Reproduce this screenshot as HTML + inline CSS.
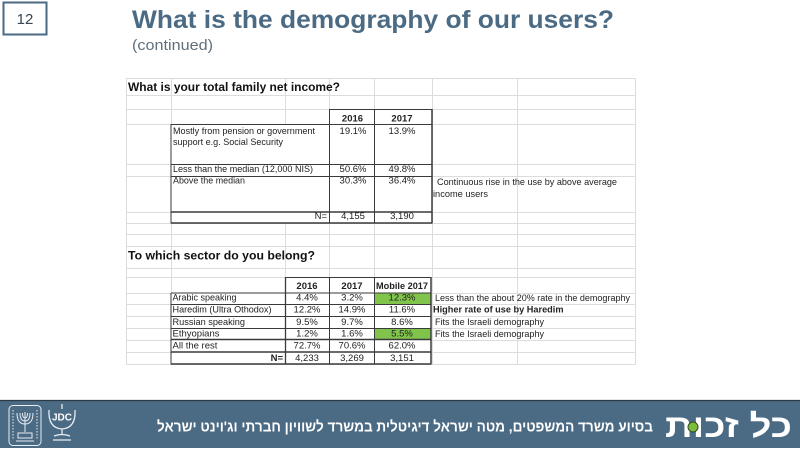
<!DOCTYPE html>
<html><head><meta charset="utf-8">
<style>
html,body{margin:0;padding:0;background:#fff;}
svg{display:block;}
text{font-family:"Liberation Sans",Arial,sans-serif;}
.t{font-size:9.5px;fill:#222;}
.b{font-weight:bold;}
.c{text-anchor:middle;}
.he{font-family:"Liberation Sans","DejaVu Sans",sans-serif;}
</style></head><body>
<svg width="800" height="450" viewBox="0 0 800 450" xmlns="http://www.w3.org/2000/svg">
<rect width="800" height="450" fill="#fff"/>

<!-- slide number -->
<rect x="3.5" y="2.5" width="43" height="32" fill="none" stroke="#4b6a84" stroke-width="2"/>
<text x="25" y="24" class="c" font-size="15" fill="#3a4652">12</text>

<!-- title -->
<text x="132" y="28" font-size="25" font-weight="bold" fill="#4b6a84" textLength="482" lengthAdjust="spacingAndGlyphs">What is the demography of our users?</text>
<text x="132" y="50" font-size="15" fill="#5f6f7c" textLength="81" lengthAdjust="spacingAndGlyphs">(continued)</text>

<!-- spreadsheet gridlines -->
<g stroke="#dcdcdc" stroke-width="1">
<line x1="126" y1="78.5" x2="635" y2="78.5"/>
<line x1="126" y1="95.5" x2="635" y2="95.5"/>
<line x1="126" y1="109.5" x2="635" y2="109.5"/>
<line x1="126" y1="124.5" x2="635" y2="124.5"/>
<line x1="126" y1="164.5" x2="635" y2="164.5"/>
<line x1="126" y1="176.5" x2="635" y2="176.5"/>
<line x1="126" y1="212.5" x2="635" y2="212.5"/>
<line x1="126" y1="223.5" x2="635" y2="223.5"/>
<line x1="126" y1="234.5" x2="635" y2="234.5"/>
<line x1="126" y1="246.5" x2="635" y2="246.5"/>
<line x1="126" y1="268.5" x2="635" y2="268.5"/>
<line x1="126" y1="277.5" x2="635" y2="277.5"/>
<line x1="126" y1="293.5" x2="635" y2="293.5"/>
<line x1="126" y1="304.5" x2="635" y2="304.5"/>
<line x1="126" y1="316.5" x2="635" y2="316.5"/>
<line x1="126" y1="328.5" x2="635" y2="328.5"/>
<line x1="126" y1="340.5" x2="635" y2="340.5"/>
<line x1="126" y1="352.5" x2="635" y2="352.5"/>
<line x1="126" y1="364.5" x2="635" y2="364.5"/>
<line x1="126.5" y1="78" x2="126.5" y2="365"/>
<line x1="171.5" y1="78" x2="171.5" y2="365"/>
<line x1="285.5" y1="78" x2="285.5" y2="365"/>
<line x1="329.5" y1="78" x2="329.5" y2="365"/>
<line x1="374.5" y1="78" x2="374.5" y2="365"/>
<line x1="432.5" y1="78" x2="432.5" y2="365"/>
<line x1="517.5" y1="78" x2="517.5" y2="365"/>
<line x1="635.5" y1="78" x2="635.5" y2="365"/>
</g>

<!-- table 1 fills -->
<rect x="171" y="124" width="261" height="99" fill="#fff"/>
<rect x="329" y="109" width="103" height="15" fill="#fff"/>
<!-- table 2 fills -->
<rect x="171" y="293" width="260" height="71" fill="#fff"/>
<rect x="285" y="277" width="146" height="16" fill="#fff"/>
<rect x="374" y="293" width="57" height="11" fill="#80c44c"/>
<rect x="374" y="328" width="57" height="11.5" fill="#80c44c"/>

<!-- table 1 borders -->
<g stroke="#3a3a3a" stroke-width="1">
<line x1="329" y1="109.5" x2="432" y2="109.5"/>
<line x1="171" y1="124.5" x2="432" y2="124.5"/>
<line x1="171" y1="164.5" x2="432" y2="164.5"/>
<line x1="171" y1="176.5" x2="432" y2="176.5"/>
<line x1="171" y1="212" x2="432" y2="212" stroke-width="1.5"/>
<line x1="171" y1="223" x2="432" y2="223" stroke-width="1.5"/>
<line x1="171" y1="124" x2="171" y2="223.5"/>
<line x1="329.5" y1="109" x2="329.5" y2="223.5"/>
<line x1="374.5" y1="109" x2="374.5" y2="223.5"/>
<line x1="432" y1="109" x2="432" y2="223.5" stroke-width="1.5"/>
</g>

<!-- table 2 borders -->
<g stroke="#3a3a3a" stroke-width="1">
<line x1="285" y1="277.5" x2="431" y2="277.5"/>
<line x1="171" y1="293" x2="431" y2="293"/>
<line x1="171" y1="304.5" x2="431" y2="304.5"/>
<line x1="171" y1="316.5" x2="431" y2="316.5"/>
<line x1="171" y1="328.5" x2="431" y2="328.5"/>
<line x1="171" y1="339.5" x2="431" y2="339.5" stroke-width="1.5"/>
<line x1="171" y1="352" x2="431" y2="352" stroke-width="1.5"/>
<line x1="171" y1="364" x2="431" y2="364" stroke-width="1.5"/>
<line x1="171" y1="293" x2="171" y2="364.5"/>
<line x1="285.5" y1="277" x2="285.5" y2="364.5" stroke-width="1.3"/>
<line x1="329.5" y1="277" x2="329.5" y2="364.5"/>
<line x1="374.5" y1="277" x2="374.5" y2="364.5"/>
<line x1="431" y1="277" x2="431" y2="364.5" stroke-width="1.5"/>
</g>

<!-- section titles -->
<text x="128" y="91" font-size="12" font-weight="bold" fill="#111" textLength="212" lengthAdjust="spacingAndGlyphs">What is your total family net income?</text>
<text x="128" y="259.5" font-size="12" font-weight="bold" fill="#111" textLength="187" lengthAdjust="spacingAndGlyphs">To which sector do you belong?</text>

<!-- table 1 text -->
<text x="352.5" y="121.5" class="t b c">2016</text>
<text x="402" y="121.5" class="t b c">2017</text>
<text x="173" y="134" class="t" textLength="142" lengthAdjust="spacingAndGlyphs">Mostly from pension or government</text>
<text x="173" y="145" class="t" textLength="110" lengthAdjust="spacingAndGlyphs">support e.g. Social Security</text>
<text x="353" y="134" class="t c">19.1%</text>
<text x="402" y="134" class="t c">13.9%</text>
<text x="173" y="172" class="t" textLength="140" lengthAdjust="spacingAndGlyphs">Less than the median (12,000 NIS)</text>
<text x="353" y="172" class="t c">50.6%</text>
<text x="402" y="172" class="t c">49.8%</text>
<text x="173" y="183.5" class="t" textLength="72" lengthAdjust="spacingAndGlyphs">Above the median</text>
<text x="353" y="183.5" class="t c">30.3%</text>
<text x="402" y="183.5" class="t c">36.4%</text>
<text x="327" y="219" class="t" text-anchor="end">N=</text>
<text x="353" y="219" class="t c">4,155</text>
<text x="402" y="219" class="t c">3,190</text>
<text x="437" y="185" class="t" textLength="180" lengthAdjust="spacingAndGlyphs">Continuous rise in the use by above average</text>
<text x="433" y="197" class="t" textLength="55" lengthAdjust="spacingAndGlyphs">income users</text>

<!-- table 2 text -->
<text x="307" y="289" class="t b c">2016</text>
<text x="352" y="289" class="t b c">2017</text>
<text x="402" y="289" class="t b c" textLength="52" lengthAdjust="spacingAndGlyphs">Mobile 2017</text>

<text x="172.5" y="300.5" class="t" textLength="64" lengthAdjust="spacingAndGlyphs">Arabic speaking</text>
<text x="307" y="300.5" class="t c">4.4%</text>
<text x="352" y="300.5" class="t c">3.2%</text>
<text x="402" y="300.5" class="t c">12.3%</text>

<text x="172.5" y="312.7" class="t" textLength="99" lengthAdjust="spacingAndGlyphs">Haredim (Ultra Othodox)</text>
<text x="307" y="312.7" class="t c">12.2%</text>
<text x="352" y="312.7" class="t c">14.9%</text>
<text x="402" y="312.7" class="t c">11.6%</text>

<text x="172.5" y="325" class="t" textLength="72.5" lengthAdjust="spacingAndGlyphs">Russian speaking</text>
<text x="307" y="325" class="t c">9.5%</text>
<text x="352" y="325" class="t c">9.7%</text>
<text x="402" y="325" class="t c">8.6%</text>

<text x="172.5" y="336.7" class="t">Ethyopians</text>
<text x="307" y="336.7" class="t c">1.2%</text>
<text x="352" y="336.7" class="t c">1.6%</text>
<text x="402" y="336.7" class="t c">5.5%</text>

<text x="172.5" y="348.5" class="t">All the rest</text>
<text x="307" y="348.5" class="t c">72.7%</text>
<text x="352" y="348.5" class="t c">70.6%</text>
<text x="402" y="348.5" class="t c">62.0%</text>

<text x="283" y="361" class="t b" text-anchor="end">N=</text>
<text x="307" y="361" class="t c">4,233</text>
<text x="352" y="361" class="t c">3,269</text>
<text x="402" y="361" class="t c">3,151</text>

<text x="435" y="301" class="t" textLength="195" lengthAdjust="spacingAndGlyphs">Less than the about 20% rate in the demography</text>
<text x="433" y="312.7" class="t b" textLength="130.5" lengthAdjust="spacingAndGlyphs">Higher rate of use by Haredim</text>
<text x="435" y="325" class="t" textLength="109" lengthAdjust="spacingAndGlyphs">Fits the Israeli demography</text>
<text x="435" y="337" class="t" textLength="109" lengthAdjust="spacingAndGlyphs">Fits the Israeli demography</text>

<!-- footer -->
<rect x="0" y="400" width="800" height="48" fill="#4b6a84"/>
<line x1="0" y1="400.5" x2="800" y2="400.5" stroke="#2b3a47" stroke-width="1.2"/>

<!-- emblem -->
<g stroke="#e8eef2" stroke-width="1" fill="none">
<rect x="9" y="405.5" width="32" height="40" rx="4"/>
<line x1="25" y1="412" x2="25" y2="432"/>
<path d="M17 413 Q17 424 25 424 Q33 424 33 413"/>
<path d="M20 413 Q20 421 25 421 Q30 421 30 413"/>
<path d="M22.5 413 Q22.5 418 25 418 Q27.5 418 27.5 413"/>
<line x1="13" y1="410" x2="13" y2="440" stroke-dasharray="1.5 1.5"/>
<line x1="37" y1="410" x2="37" y2="440" stroke-dasharray="1.5 1.5"/>
<rect x="18" y="433" width="14" height="5"/>
<line x1="16" y1="441" x2="34" y2="441"/>
</g>

<!-- JDC logo -->
<g stroke="#e8eef2" stroke-width="1.3" fill="none">
<line x1="62" y1="404" x2="62" y2="409"/>
<path d="M49 410 Q48 428 62 429 Q76 428 75 410"/>
<line x1="62" y1="429" x2="62" y2="434"/>
<path d="M54 436 Q62 433 70 436"/>
<line x1="53" y1="440" x2="71" y2="440"/>
</g>
<text x="62" y="420.5" class="c" font-size="10" font-weight="bold" fill="#fff">JDC</text>

<!-- hebrew footer text -->
<text x="405" y="431.5" class="he c" font-size="15" font-weight="bold" fill="#fff" direction="rtl" textLength="496" lengthAdjust="spacingAndGlyphs">בסיוע משרד המשפטים, מטה ישראל דיגיטלית במשרד לשוויון חברתי וג'וינט ישראל</text>

<!-- logo -->
<text x="728.5" y="437" class="he c" font-size="32" font-weight="bold" fill="#fff" direction="rtl" textLength="127" lengthAdjust="spacingAndGlyphs">כל זכות</text>
<circle cx="693" cy="427" r="5" fill="#7dbb3c" stroke="#2f4a20" stroke-width="1"/>
</svg>
</body></html>
